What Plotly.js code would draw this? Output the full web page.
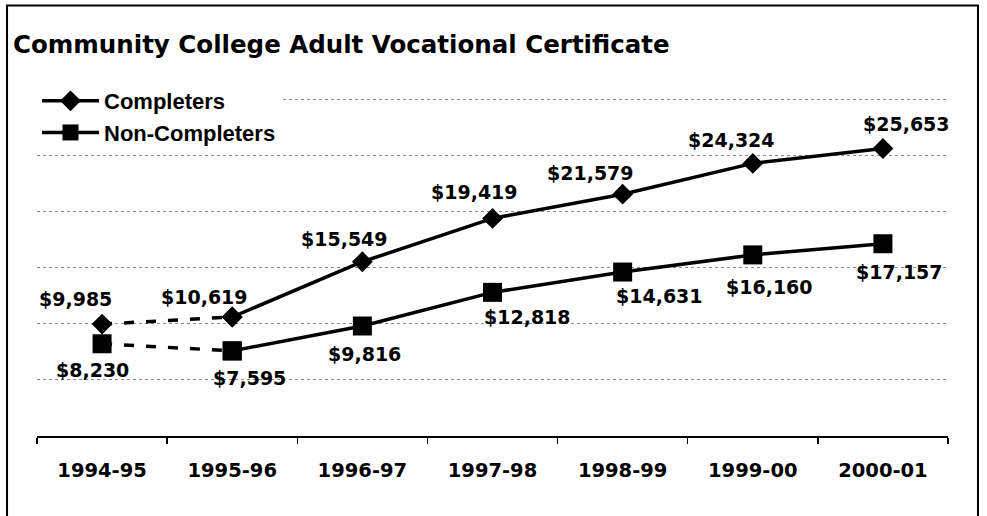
<!DOCTYPE html>
<html>
<head>
<meta charset="utf-8">
<script src="https://cdn.plot.ly/plotly-3.0.1.min.js"></script>
<style>
  html, body { margin: 0; padding: 0; background: #ffffff; }
  #chart { width: 987px; height: 516px; }
</style>
</head>
<body>
<div id="chart"></div>
<script>
// ---- data ----
const categories = ['1994-95', '1995-96', '1996-97', '1997-98', '1998-99', '1999-00', '2000-01'];
const completers = [9985, 10619, 15549, 19419, 21579, 24324, 25653];
const nonCompleters = [8230, 7595, 9816, 12818, 14631, 16160, 17157];
const seriesNames = ['Completers', 'Non-Completers'];
const chartTitle = 'Community College Adult Vocational Certificate';

// ---- label offsets (pixels, style only) ----
const compShiftX = [-27, -28, -18, -18, -32, -21, 24];
const compShiftY = [25, 20, 23, 26, 21, 23, 25];
const nonShiftX = [-10, 17, 2, 35, 37, 17, 17];
const nonShiftY = [-26, -27, -28, -25, -24, -32, -28];

const numFont = { family: 'DejaVu Sans, Arial, sans-serif', size: 19, color: '#000', weight: 'bold' };
const fmt = v => '$' + v.toLocaleString('en-US');

function seriesTraces(name, values, symbol, size) {
  const common = {
    type: 'scatter',
    mode: 'lines+markers',
    marker: { symbol: symbol, size: size, color: '#000', line: { width: 0 } },
    hoverinfo: 'skip',
    cliponaxis: false
  };
  return [
    Object.assign({}, common, {
      x: categories.slice(0, 2), y: values.slice(0, 2),
      name: name, showlegend: false,
      line: { color: '#000', width: 3.5, dash: '10px,12px' }
    }),
    Object.assign({}, common, {
      x: categories.slice(1), y: values.slice(1),
      name: name, showlegend: true,
      line: { color: '#000', width: 3.5 }
    })
  ];
}

const traces = [].concat(
  seriesTraces(seriesNames[0], completers, 'diamond', 16),
  seriesTraces(seriesNames[1], nonCompleters, 'square', 19)
);

const annotations = [];
categories.forEach((c, i) => {
  annotations.push({ x: c, y: completers[i], xref: 'x', yref: 'y', text: fmt(completers[i]),
    showarrow: false, xshift: compShiftX[i], yshift: compShiftY[i], font: numFont,
    xanchor: 'center', yanchor: 'middle' });
  annotations.push({ x: c, y: nonCompleters[i], xref: 'x', yref: 'y', text: fmt(nonCompleters[i]),
    showarrow: false, xshift: nonShiftX[i], yshift: nonShiftY[i], font: numFont,
    xanchor: 'center', yanchor: 'middle' });
});

const layout = {
  width: 987, height: 516,
  margin: { l: 37, r: 39, t: 97, b: 80 },
  paper_bgcolor: '#ffffff', plot_bgcolor: 'rgba(0,0,0,0)',
  title: {
    text: chartTitle,
    x: 13 / 987, xref: 'container', xanchor: 'left',
    y: 1 - 44 / 516, yref: 'container', yanchor: 'middle',
    font: { family: 'DejaVu Sans, Arial, sans-serif', size: 24.5, color: '#000', weight: 'bold' }
  },
  xaxis: {
    type: 'category',
    categoryorder: 'array', categoryarray: categories,
    range: [-0.5, 6.5],
    showline: true, linecolor: '#000', linewidth: 2,
    ticks: 'outside', tickson: 'boundaries', ticklen: 6, tickwidth: 1.5, tickcolor: '#000',
    showgrid: false, zeroline: false,
    ticklabelstandoff: 16,
    tickfont: { family: 'DejaVu Sans, Arial, sans-serif', size: 19.5, color: '#000', weight: 'bold' },
    fixedrange: true
  },
  yaxis: {
    range: [0, 30250], dtick: 5000, tick0: 0,
    showticklabels: false, ticks: '',
    showgrid: true, gridcolor: '#888', gridwidth: 1, griddash: 'dot',
    zeroline: false, showline: false, fixedrange: true
  },
  showlegend: true,
  legend: {
    x: 0.0, xanchor: 'left', xref: 'paper',
    y: 1.05, yanchor: 'top', yref: 'paper',
    bgcolor: '#ffffff', borderwidth: 0,
    itemwidth: 57,
    traceorder: 'normal',
    font: { family: 'Arial, Liberation Sans, sans-serif', size: 22, color: '#000', weight: 'bold' }
  },
  annotations: annotations,
  shapes: [{
    type: 'rect', xref: 'paper', yref: 'paper',
    x0: -0.0329, x1: 1.0329, y0: -0.3, y1: 1.27,
    line: { color: '#000', width: 2 }, fillcolor: 'rgba(0,0,0,0)', layer: 'above'
  }]
};

Plotly.newPlot('chart', traces, layout, { displayModeBar: false, staticPlot: true });
</script>
</body>
</html>
